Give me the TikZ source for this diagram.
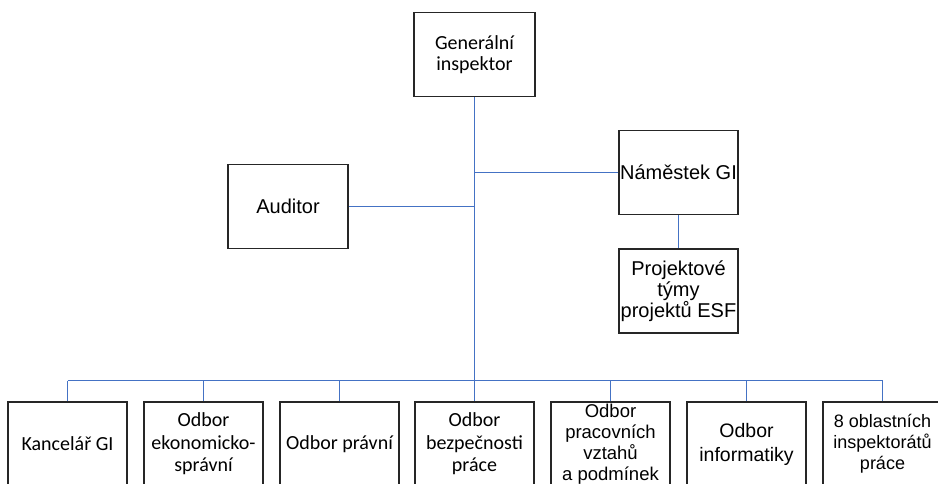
\documentclass[tikz,border=0pt]{standalone}
\usepackage{fontspec}
\setmainfont{Carlito}
\newfontfamily\arialfont{Liberation Sans}
\usepackage{tikz}
\definecolor{linkblue}{RGB}{68,114,196}
\definecolor{boxgray}{RGB}{38,38,38}

\begin{document}
\begin{tikzpicture}[x=1pt,y=-1pt,
    unit/.style={draw=boxgray,line width=1.4pt,fill=white,minimum width=119pt,
      minimum height=84pt,inner sep=0pt,align=center,
      font=\fontsize{20}{22.5}\selectfont},
    unita/.style={unit,font=\arialfont\fontsize{20}{21}\selectfont},
    unitb/.style={unit,font=\arialfont\fontsize{18.5}{21}\selectfont},
    link/.style={draw=linkblue,line width=1.2pt}]
      \clip (0,0) rectangle (938,483);
      \node[unit,minimum width=121pt,font=\fontsize{20}{21}\selectfont] (gi)
        at (474.5,54.5){Generální\\inspektor};
      \node[unita,minimum width=120pt] (aud) at (288,206.5){Auditor};
      \node[unita] (nam) at (678.5,172.5){Náměstek GI};
      \node[unita] (proj) at (678.5,291){Projektové\\týmy\\projektů ESF};

      \node[unit] (kanc) at (67.5,444){Kancelář GI};
      \node[unit] (eko) at (203.5,444){Odbor\\ekonomicko-\\správní};
      \node[unit] (prav) at (339.5,444){Odbor právní};
      \node[unit] (bezp) at (474.5,444){Odbor\\bezpečnosti\\práce};
      \node[unitb] (prac) at (610.5,444){Odbor\\pracovních\\vztahů\\a podmínek};
      \node[unitb,font=\arialfont\fontsize{19.5}{24}\selectfont] (inf)
        at (746.5,444){Odbor\\informatiky};
      \node[unitb,font=\arialfont\fontsize{18}{21}\selectfont] (obl)
        at (882.5,444){8 oblastních\\inspektorátů\\práce};

      \coordinate (bus) at (474.5,380.5);
      \draw[link] (gi.south) -- (bezp.north);
      \draw[link] (aud.east) -- (aud.east -| gi.south);
      \draw[link] (nam.west) -- (nam.west -| gi.south);
      \draw[link] (nam.south) -- (proj.north);
      \draw[link] (kanc.north |- bus) -- (obl.north |- bus);
      \foreach \u in {kanc,eko,prav,prac,inf,obl}
        \draw[link] (\u.north) -- (\u.north |- bus);
    \end{tikzpicture}
\end{document}
